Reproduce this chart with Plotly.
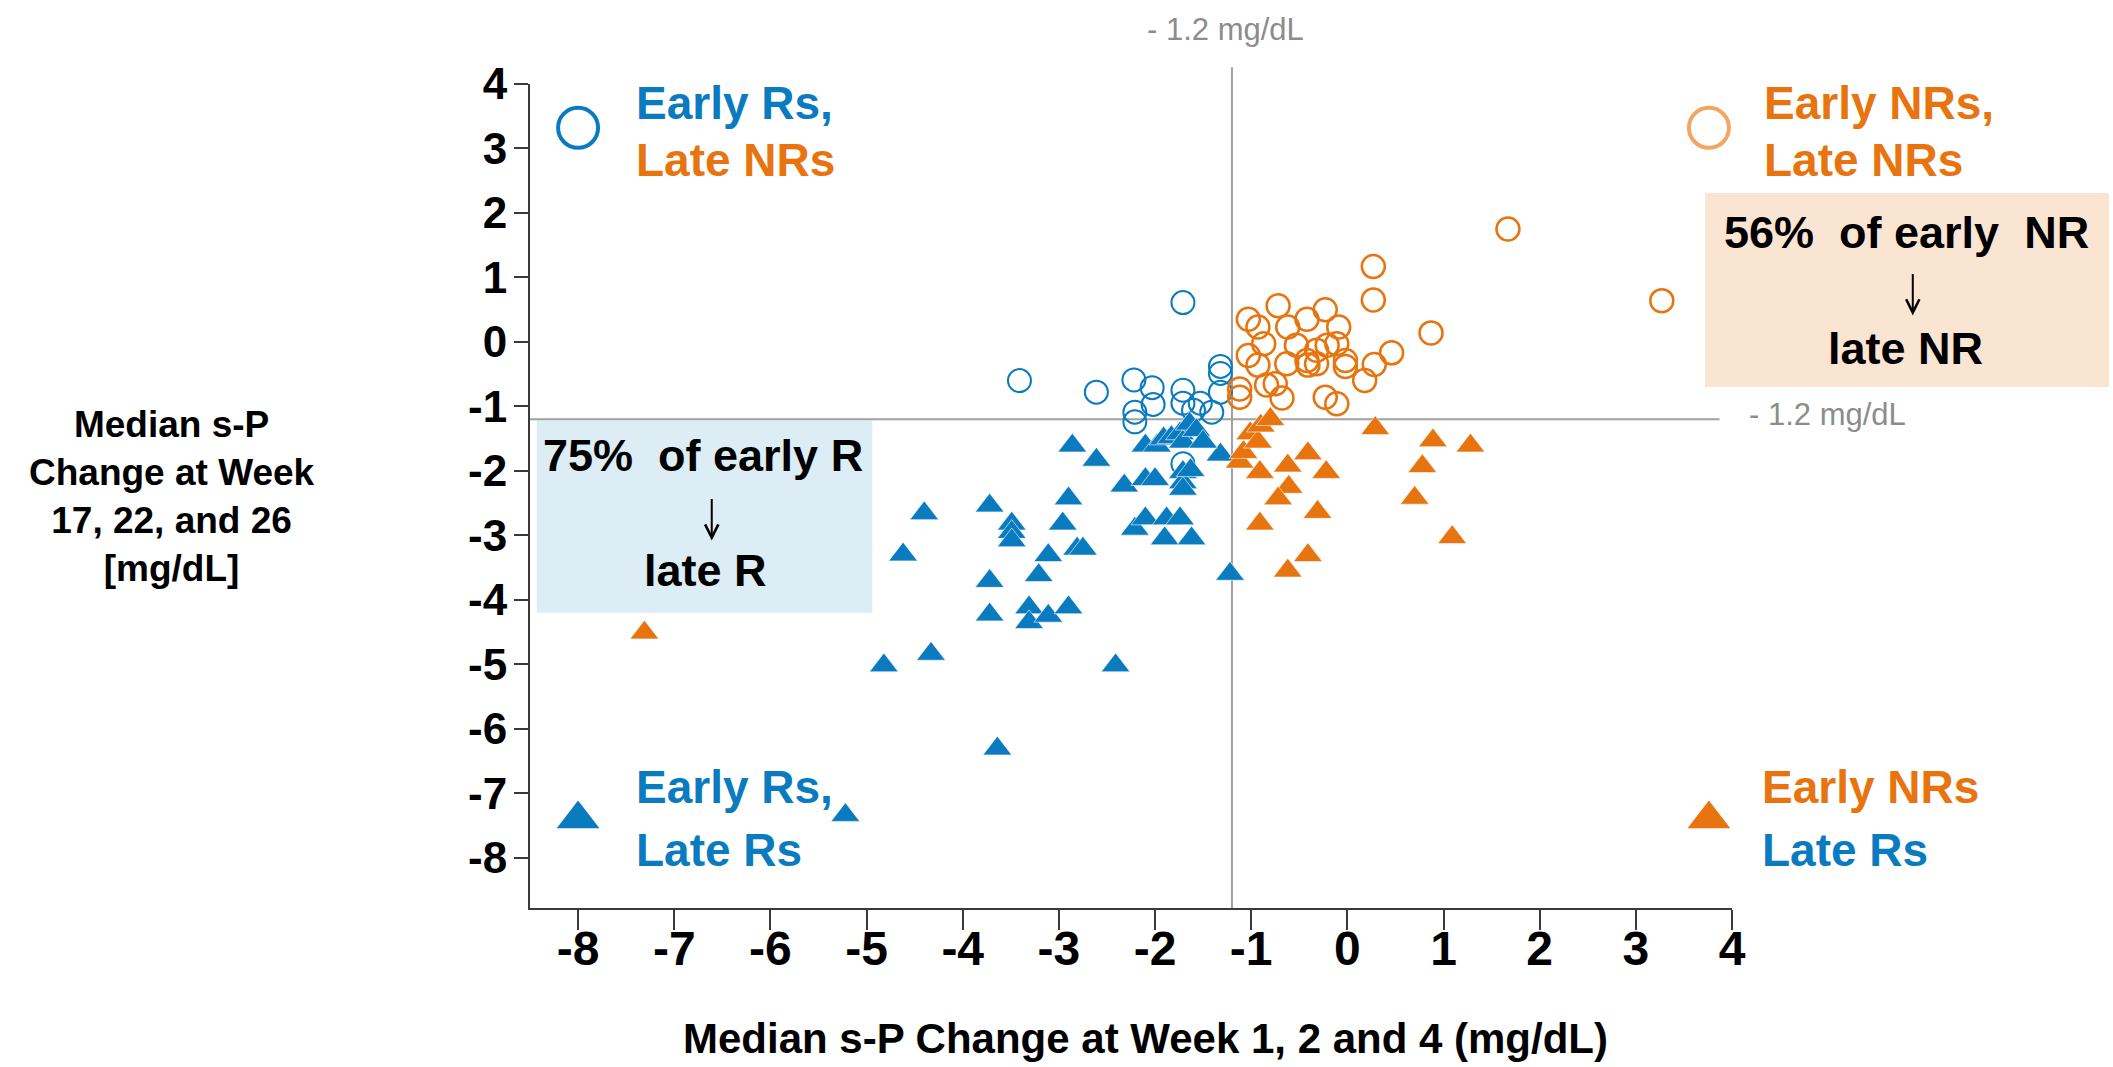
import plotly.graph_objects as go

# ---------------- data (mg/dL) ----------------
# Early responders that became late non-responders (open blue circles)
er_lnr_x = [-1.71, -3.41, -2.61, -2.22, -2.03, -2.21, -2.21, -2.02, -1.71, -1.71,
            -1.53, -1.60, -1.41, -1.32, -1.32, -1.32, -1.71]
er_lnr_y = [0.61, -0.60, -0.78, -0.59, -0.71, -1.09, -1.24, -0.97, -0.75, -0.95,
            -0.95, -1.06, -1.09, -0.38, -0.49, -0.78, -1.89]

# Early non-responders that stayed non-responders (open orange circles)
enr_lnr_x = [-1.12, -1.12, -1.03, -1.03, -0.93, -0.93, -0.87, -0.84, -0.75, -0.72,
             -0.68, -0.62, -0.63, -0.53, -0.42, -0.42, -0.41, -0.32, -0.32, -0.23,
             -0.21, -0.23, -0.11, -0.09, -0.11, -0.02, -0.02, 0.18, 0.28, 0.46,
             0.27, 0.27, 0.87, 1.67, 3.27]
enr_lnr_y = [-0.73, -0.86, 0.35, -0.21, 0.23, -0.36, -0.03, -0.67, -0.65, 0.56,
             -0.87, 0.23, -0.34, -0.05, 0.35, -0.29, -0.36, -0.34, -0.13, 0.50,
             -0.05, -0.86, -0.03, 0.23, -0.96, -0.29, -0.38, -0.60, -0.35, -0.17,
             0.65, 1.17, 0.14, 1.75, 0.64]

# Early responders that stayed responders (filled blue triangles)
er_lr_x = [-5.22, -3.64, -4.82, -4.33, -2.41, -4.62, -4.40, -3.72, -3.72, -3.72,
           -3.49, -3.49, -3.49, -3.31, -3.31, -3.11, -2.90, -3.21, -3.11, -2.81,
           -2.75, -2.96, -2.90, -2.86, -2.61, -2.32, -2.10, -2.00, -2.21, -2.10,
           -1.88, -1.74, -1.90, -1.62, -1.71, -1.71, -1.71, -1.63, -1.22, -1.32,
           -2.10, -1.98, -1.91, -1.83, -1.74, -1.71, -1.64, -1.57, -1.50]
er_lr_y = [-7.34, -6.31, -5.02, -4.84, -5.02, -3.30, -2.66, -2.54, -3.71, -4.23,
           -2.82, -2.95, -3.08, -4.12, -4.35, -4.25, -4.12, -3.62, -3.31, -3.21,
           -3.21, -2.82, -2.43, -1.61, -1.83, -2.23, -2.13, -2.13, -2.90, -2.74,
           -2.74, -2.74, -3.05, -3.05, -2.02, -2.18, -2.28, -1.99, -3.60, -1.75,
           -1.61, -1.61, -1.50, -1.48, -1.42, -1.55, -1.27, -1.37, -1.55]

# Early non-responders that became late responders (filled orange triangles)
enr_lr_x = [-7.31, -1.12, -1.08, -1.01, -0.93, -0.90, -0.80, -0.91, -0.62, -0.41,
            -0.22, -0.61, -0.72, -0.31, -0.91, -0.41, -0.62, 0.29, 0.89, 1.28,
            0.78, 0.70, 1.09]
enr_lr_y = [-4.51, -1.86, -1.71, -1.42, -1.55, -1.30, -1.20, -2.02, -1.92, -1.73,
            -2.02, -2.25, -2.43, -2.64, -2.82, -3.31, -3.55, -1.34, -1.53, -1.61,
            -1.93, -2.42, -3.03]

threshold = -1.2  # mg/dL cut-off on both axes

x_ticks = [-8, -7, -6, -5, -4, -3, -2, -1, 0, 1, 2, 3, 4]
x_tick_text = ["-8", "-7", "-6", "-5", "-4", "-3", "-2", "-1", "0", "1", "2", "3", "4"]
y_ticks = [4, 3, 2, 1, 0, -1, -2, -3, -4, -5, -6, -7, -8]
y_tick_text = ["4", "3", "2", "1", "0", "-1", "-2", "-3", "-4", "-5", "-6", "-7", "-8"]

# ---------------- styling ----------------
X_RANGE = [-8.5, 4.0]
Y_RANGE = [-8.78, 4.0]

BLUE = "#0B7BC0"
ORANGE = "#E8740F"
ORANGE_LIGHT = "#F2A662"
GREY = "#A0A0A0"
GREY_TEXT = "#8C8C8C"
AXIS = "#3A3A3A"
FONT = "Liberation Sans, Arial, sans-serif"
NBSP = "\u00a0"


def xp(v):
    """data x -> paper fraction"""
    return (v - X_RANGE[0]) / (X_RANGE[1] - X_RANGE[0])


def yp(v):
    """data y -> paper fraction"""
    return (v - Y_RANGE[0]) / (Y_RANGE[1] - Y_RANGE[0])


fig = go.Figure()

fig.add_trace(go.Scatter(
    x=er_lnr_x, y=er_lnr_y, mode="markers", hoverinfo="skip",
    marker=dict(symbol="circle-open", size=23, color=BLUE, line=dict(width=2, color=BLUE)),
))
fig.add_trace(go.Scatter(
    x=enr_lnr_x, y=enr_lnr_y, mode="markers", hoverinfo="skip",
    marker=dict(symbol="circle-open", size=23, color=ORANGE, line=dict(width=2.5, color=ORANGE)),
))
fig.add_trace(go.Scatter(
    x=er_lr_x, y=er_lr_y, mode="markers", hoverinfo="skip",
    marker=dict(symbol="triangle-up", size=25, color=BLUE, line=dict(width=0.6, color="white")),
))
fig.add_trace(go.Scatter(
    x=enr_lr_x, y=enr_lr_y, mode="markers", hoverinfo="skip",
    marker=dict(symbol="triangle-up", size=25, color=ORANGE, line=dict(width=0.6, color="white")),
))

# quadrant key symbols
key_x_left, key_x_right = -8.0, 3.76
key_y_top, key_y_bottom = 3.32, -7.40
fig.add_trace(go.Scatter(
    x=[key_x_left], y=[key_y_top], mode="markers", hoverinfo="skip", cliponaxis=False,
    marker=dict(symbol="circle-open", size=40, color=BLUE, line=dict(width=4, color=BLUE)),
))
fig.add_trace(go.Scatter(
    x=[key_x_right], y=[key_y_top], mode="markers", hoverinfo="skip", cliponaxis=False,
    marker=dict(symbol="circle-open", size=40, color=ORANGE_LIGHT, line=dict(width=4, color=ORANGE_LIGHT)),
))
fig.add_trace(go.Scatter(
    x=[key_x_left], y=[key_y_bottom], mode="markers", hoverinfo="skip", cliponaxis=False,
    marker=dict(symbol="triangle-up", size=37, color=BLUE),
))
fig.add_trace(go.Scatter(
    x=[key_x_right], y=[key_y_bottom], mode="markers", hoverinfo="skip", cliponaxis=False,
    marker=dict(symbol="triangle-up", size=37, color=ORANGE),
))

shapes = [
    # shaded summary boxes
    dict(type="rect", xref="paper", yref="paper", layer="below",
         x0=xp(-8.43), x1=xp(-4.94), y0=yp(-4.20), y1=yp(-1.22),
         fillcolor="#DCEDF6", line=dict(width=0)),
    dict(type="rect", xref="paper", yref="paper", layer="below",
         x0=xp(3.72), x1=xp(7.92), y0=yp(-0.70), y1=yp(2.31),
         fillcolor="#FAE5D3", line=dict(width=0)),
    # threshold lines
    dict(type="line", xref="paper", yref="paper", layer="below",
         x0=xp(X_RANGE[0]), x1=xp(3.87), y0=yp(threshold), y1=yp(threshold),
         line=dict(color=GREY, width=2)),
    dict(type="line", xref="paper", yref="paper", layer="below",
         x0=xp(threshold), x1=xp(threshold), y0=yp(Y_RANGE[0]), y1=yp(4.26),
         line=dict(color=GREY, width=2)),
]


def label(text, x, y, size, color="black", xanchor="left", bold=True, family=FONT):
    return dict(text=text, x=xp(x), y=yp(y), xref="paper", yref="paper",
                xanchor=xanchor, yanchor="middle", showarrow=False,
                font=dict(family=family, size=size, color=color,
                          weight="bold" if bold else "normal"))


def down_arrow(x, y_head, length_px=43):
    """thin downward arrow whose head sits at (x, y_head)"""
    return dict(text="", x=xp(x), y=yp(y_head), xref="paper", yref="paper",
                showarrow=True, ax=0, ay=-length_px, axref="pixel", ayref="pixel",
                arrowhead=5, arrowsize=1.3, arrowwidth=2, arrowcolor="black",
                standoff=0, startstandoff=0)


LEG = 46
annotations = [
    label("Early Rs,", -7.42, 3.70, LEG, BLUE),
    label("Late NRs", -7.42, 2.82, LEG, ORANGE),
    label("Early NRs,", 4.31, 3.70, LEG, ORANGE),
    label("Late NRs", 4.31, 2.82, LEG, ORANGE),
    label("Early Rs,", -7.42, -6.90, LEG, BLUE),
    label("Late Rs", -7.42, -7.88, LEG, BLUE),
    label("Early NRs", 4.29, -6.90, LEG, ORANGE),
    label("Late Rs", 4.29, -7.88, LEG, BLUE),
    # box texts
    label("75%" + NBSP * 2 + "of early R", -6.70, -1.76, 45, xanchor="center"),
    down_arrow(-6.61, -3.08),
    label("late R", -6.68, -3.55, 45, xanchor="center"),
    label("56%" + NBSP * 2 + "of early" + NBSP * 2 + "NR", 5.81, 1.70, 45, xanchor="center"),
    down_arrow(5.88, 0.41),
    label("late NR", 5.80, -0.10, 45, xanchor="center"),
    # threshold labels
    label("- 1.2 mg/dL", -1.27, 4.84, 31, GREY_TEXT, xanchor="center", bold=False),
    label("- 1.2 mg/dL", 4.16, -1.12, 31, GREY_TEXT, bold=False),
    # axis titles
    label("Median s-P Change at Week 1, 2 and 4 (mg/dL)", -2.10, -10.81, 42, xanchor="center"),
    label("Median s-P<br>Change at Week<br>17, 22, and 26<br>[mg/dL]", -12.22, -2.40, 37,
          xanchor="center"),
]

fig.update_layout(
    width=2113, height=1067,
    margin=dict(l=530, r=381, t=84, b=159),
    paper_bgcolor="white", plot_bgcolor="white",
    showlegend=False,
    shapes=shapes,
    annotations=annotations,
    xaxis=dict(
        range=X_RANGE, tickmode="array", tickvals=x_ticks, ticktext=x_tick_text,
        showline=True, linecolor=AXIS, linewidth=2,
        ticks="outside", ticklen=20, tickwidth=2, tickcolor=AXIS,
        showgrid=False, zeroline=False, ticklabelstandoff=-23,
        tickfont=dict(family=FONT, size=48, color="black", weight="bold"),
    ),
    yaxis=dict(
        range=Y_RANGE, tickmode="array", tickvals=y_ticks, ticktext=y_tick_text,
        showline=True, linecolor=AXIS, linewidth=2,
        ticks="outside", ticklen=14, tickwidth=2, tickcolor=AXIS,
        showgrid=False, zeroline=False, ticklabelstandoff=-2,
        tickfont=dict(family=FONT, size=44, color="black", weight="bold"),
    ),
)

fig.write_html("out.html")
